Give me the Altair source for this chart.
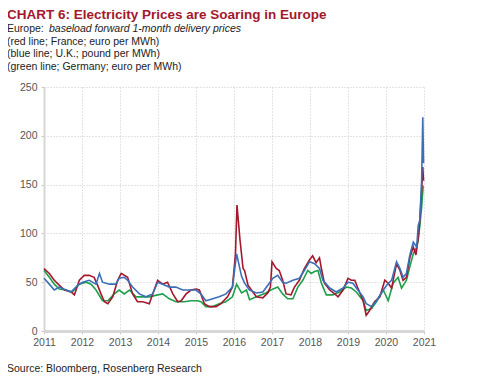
import altair as alt
import pandas as pd

# ---- data (decimal year, value) ----
fr_t = [2011.00, 2011.14, 2011.27, 2011.40, 2011.54, 2011.71, 2011.80, 2011.93, 2012.06, 2012.19,
        2012.32, 2012.41, 2012.50, 2012.59, 2012.68, 2012.81, 2012.94, 2013.03, 2013.20, 2013.33,
        2013.46, 2013.60, 2013.77, 2013.86, 2013.99, 2014.12, 2014.25, 2014.39, 2014.52, 2014.61,
        2014.74, 2014.87, 2015.00, 2015.09, 2015.22, 2015.35, 2015.53, 2015.66, 2015.83, 2015.96,
        2016.04, 2016.08, 2016.16, 2016.24, 2016.28, 2016.37, 2016.46, 2016.59, 2016.76, 2016.89,
        2016.96, 2017.00, 2017.11, 2017.19, 2017.28, 2017.37, 2017.50, 2017.59, 2017.72, 2017.85,
        2017.99, 2018.07, 2018.16, 2018.25, 2018.30, 2018.38, 2018.52, 2018.65, 2018.74, 2018.87,
        2019.00, 2019.09, 2019.18, 2019.26, 2019.40, 2019.48, 2019.57, 2019.70, 2019.84, 2019.97,
        2020.06, 2020.15, 2020.28, 2020.37, 2020.45, 2020.54, 2020.63, 2020.72, 2020.79, 2020.85,
        2020.89, 2020.94, 2020.97, 2020.99]
fr_v = [64, 59, 52, 47, 42, 40, 37, 52, 57, 57,
        55, 47, 38, 30, 28, 35, 52, 59, 55, 38,
        30, 30, 28, 38, 52, 48, 50, 38, 30, 31,
        38, 42, 43, 42, 28, 25, 25, 28, 35, 45,
        79, 129, 93, 64, 62, 47, 42, 35, 34, 39,
        45, 71, 64, 62, 52, 38, 37, 45, 52, 64,
        73, 77, 70, 75, 64, 49, 42, 38, 35, 42,
        54, 52, 52, 44, 31, 16, 21, 30, 35, 52,
        49, 44, 69, 62, 52, 55, 75, 86, 78, 96,
        113, 144, 168, 154]

uk_t = [2011.00, 2011.14, 2011.27, 2011.40, 2011.58, 2011.71, 2011.89, 2012.02, 2012.19, 2012.37,
        2012.46, 2012.54, 2012.72, 2012.89, 2012.98, 2013.11, 2013.20, 2013.33, 2013.51, 2013.68,
        2013.86, 2013.99, 2014.12, 2014.30, 2014.47, 2014.65, 2014.82, 2015.00, 2015.13, 2015.26,
        2015.44, 2015.61, 2015.79, 2015.96, 2016.07, 2016.20, 2016.28, 2016.41, 2016.59, 2016.76,
        2016.93, 2017.02, 2017.15, 2017.28, 2017.37, 2017.55, 2017.72, 2017.85, 2017.99, 2018.12,
        2018.25, 2018.34, 2018.52, 2018.69, 2018.87, 2019.00, 2019.13, 2019.26, 2019.40, 2019.48,
        2019.62, 2019.75, 2019.93, 2020.06, 2020.15, 2020.28, 2020.37, 2020.45, 2020.54, 2020.63,
        2020.72, 2020.81, 2020.85, 2020.89, 2020.94, 2020.97, 2020.99]
uk_v = [54, 48, 42, 45, 42, 40, 47, 50, 52, 48,
        59, 50, 48, 48, 54, 55, 52, 45, 38, 35,
        38, 50, 48, 45, 45, 42, 42, 42, 38, 31,
        33, 35, 38, 45, 79, 56, 49, 42, 39, 40,
        49, 54, 57, 50, 49, 52, 54, 62, 71, 69,
        64, 52, 44, 40, 44, 50, 49, 42, 35, 28,
        25, 31, 42, 49, 52, 71, 64, 55, 59, 78,
        91, 86, 108, 113, 154, 219, 172]

de_t = [2011.00, 2011.14, 2011.27, 2011.40, 2011.58, 2011.75, 2011.93, 2012.11, 2012.24, 2012.37,
        2012.54, 2012.68, 2012.85, 2012.98, 2013.11, 2013.25, 2013.42, 2013.60, 2013.77, 2013.99,
        2014.12, 2014.30, 2014.47, 2014.69, 2014.87, 2015.04, 2015.13, 2015.26, 2015.44, 2015.61,
        2015.79, 2015.96, 2016.07, 2016.20, 2016.33, 2016.41, 2016.59, 2016.84, 2016.97, 2017.15,
        2017.28, 2017.41, 2017.55, 2017.68, 2017.81, 2017.94, 2018.03, 2018.12, 2018.21, 2018.30,
        2018.43, 2018.60, 2018.78, 2018.96, 2019.09, 2019.22, 2019.40, 2019.48, 2019.62, 2019.75,
        2019.93, 2020.06, 2020.19, 2020.32, 2020.41, 2020.54, 2020.63, 2020.72, 2020.81, 2020.85,
        2020.89, 2020.94, 2020.98]
de_v = [62, 55, 48, 43, 42, 40, 48, 50, 48, 42,
        31, 31, 38, 42, 38, 42, 35, 35, 35, 37,
        38, 33, 30, 30, 31, 31, 30, 25, 25, 28,
        30, 35, 48, 39, 42, 32, 35, 39, 42, 45,
        38, 33, 33, 45, 52, 62, 59, 61, 62, 49,
        37, 37, 40, 45, 44, 40, 31, 21, 23, 30,
        42, 31, 49, 55, 44, 52, 66, 79, 86, 93,
        107, 127, 149]

series_names = ["Germany", "France", "U.K."]
series_colors = ["#1ea04b", "#a3182d", "#3a6fb8"]

title_text = "CHART 6: Electricity Prices are Soaring in Europe"
sub_plain = "Europe: "
sub_italic = "baseload forward 1-month delivery prices"
sub_lines = ["(red line; France; euro per MWh)",
             "(blue line; U.K.; pound per MWh)",
             "(green line; Germany; euro per MWh)"]
source_text = "Source: Bloomberg, Rosenberg Research"


def to_dates(ts):
    out = []
    for t in ts:
        y = int(t)
        start = pd.Timestamp(year=y, month=1, day=1)
        out.append(start + pd.Timedelta(days=(t - y) * 365.25))
    return out


frames = []
for i, (name, ts, vs) in enumerate([("Germany", de_t, de_v), ("France", fr_t, fr_v), ("U.K.", uk_t, uk_v)]):
    frames.append(pd.DataFrame({"date": to_dates(ts), "value": vs, "series": name}))
df = pd.concat(frames, ignore_index=True)

FONT = "Liberation Sans"

lines = alt.Chart(df).mark_line(strokeWidth=1.6, interpolate="linear").encode(
    x=alt.X("date:T",
            scale=alt.Scale(domain=["2011-01-01T00:00:00", "2021-01-01T00:00:00"]),
            axis=alt.Axis(title=None, format="%Y", tickCount={"interval": "year", "step": 1},
                          labelFlush=False, labelOverlap=False,
                          grid=True, gridColor="#c8c8c8", gridDash=[1, 2], gridWidth=1,
                          domainColor="#d6d6d6", domainWidth=3,
                          tickColor="#c8c8c8", tickSize=3, labelPadding=3,
                          labelFont=FONT, labelFontSize=10.5, labelColor="#555555")),
    y=alt.Y("value:Q",
            scale=alt.Scale(domain=[0, 250], nice=False),
            axis=alt.Axis(title=None, values=[0, 50, 100, 150, 200, 250],
                          grid=True, gridColor="#c8c8c8", gridDash=[1, 2], gridWidth=1,
                          domainColor="#d6d6d6", domainWidth=2,
                          tickColor="#c8c8c8", tickSize=3, labelPadding=4,
                          labelFont=FONT, labelFontSize=10.5, labelColor="#555555")),
    color=alt.Color("series:N", scale=alt.Scale(domain=series_names, range=series_colors),
                    legend=None),
    detail="series:N",
)

one = pd.DataFrame({"a": [0]})


def txt(text, x, y, size=10.5, weight="normal", style="normal", color="#222222", font=FONT):
    return alt.Chart(one).mark_text(
        text=text, align="left", baseline="alphabetic", fontSize=size,
        fontWeight=weight, fontStyle=style, color=color, font=font
    ).encode(x=alt.value(x), y=alt.value(y))


texts = [
    txt(title_text, -37, -68, size=13.5, weight="bold", color="#a3182d"),
    txt(sub_plain, -37, -55),
    txt(sub_italic, 5, -55, style="italic"),
    txt(sub_lines[0], -37, -42.5),
    txt(sub_lines[1], -37, -30),
    txt(sub_lines[2], -37, -17.5),
    txt(source_text, -37, 285),
]

chart = alt.layer(lines, *texts).properties(
    width=380, height=244,
    autosize=alt.AutoSizeParams(type="none"),
    padding={"left": 36, "top": 79, "right": 68, "bottom": 44},
).configure_view(stroke=None)

chart.save("out.html", embed_options={"renderer": "svg", "actions": False})
